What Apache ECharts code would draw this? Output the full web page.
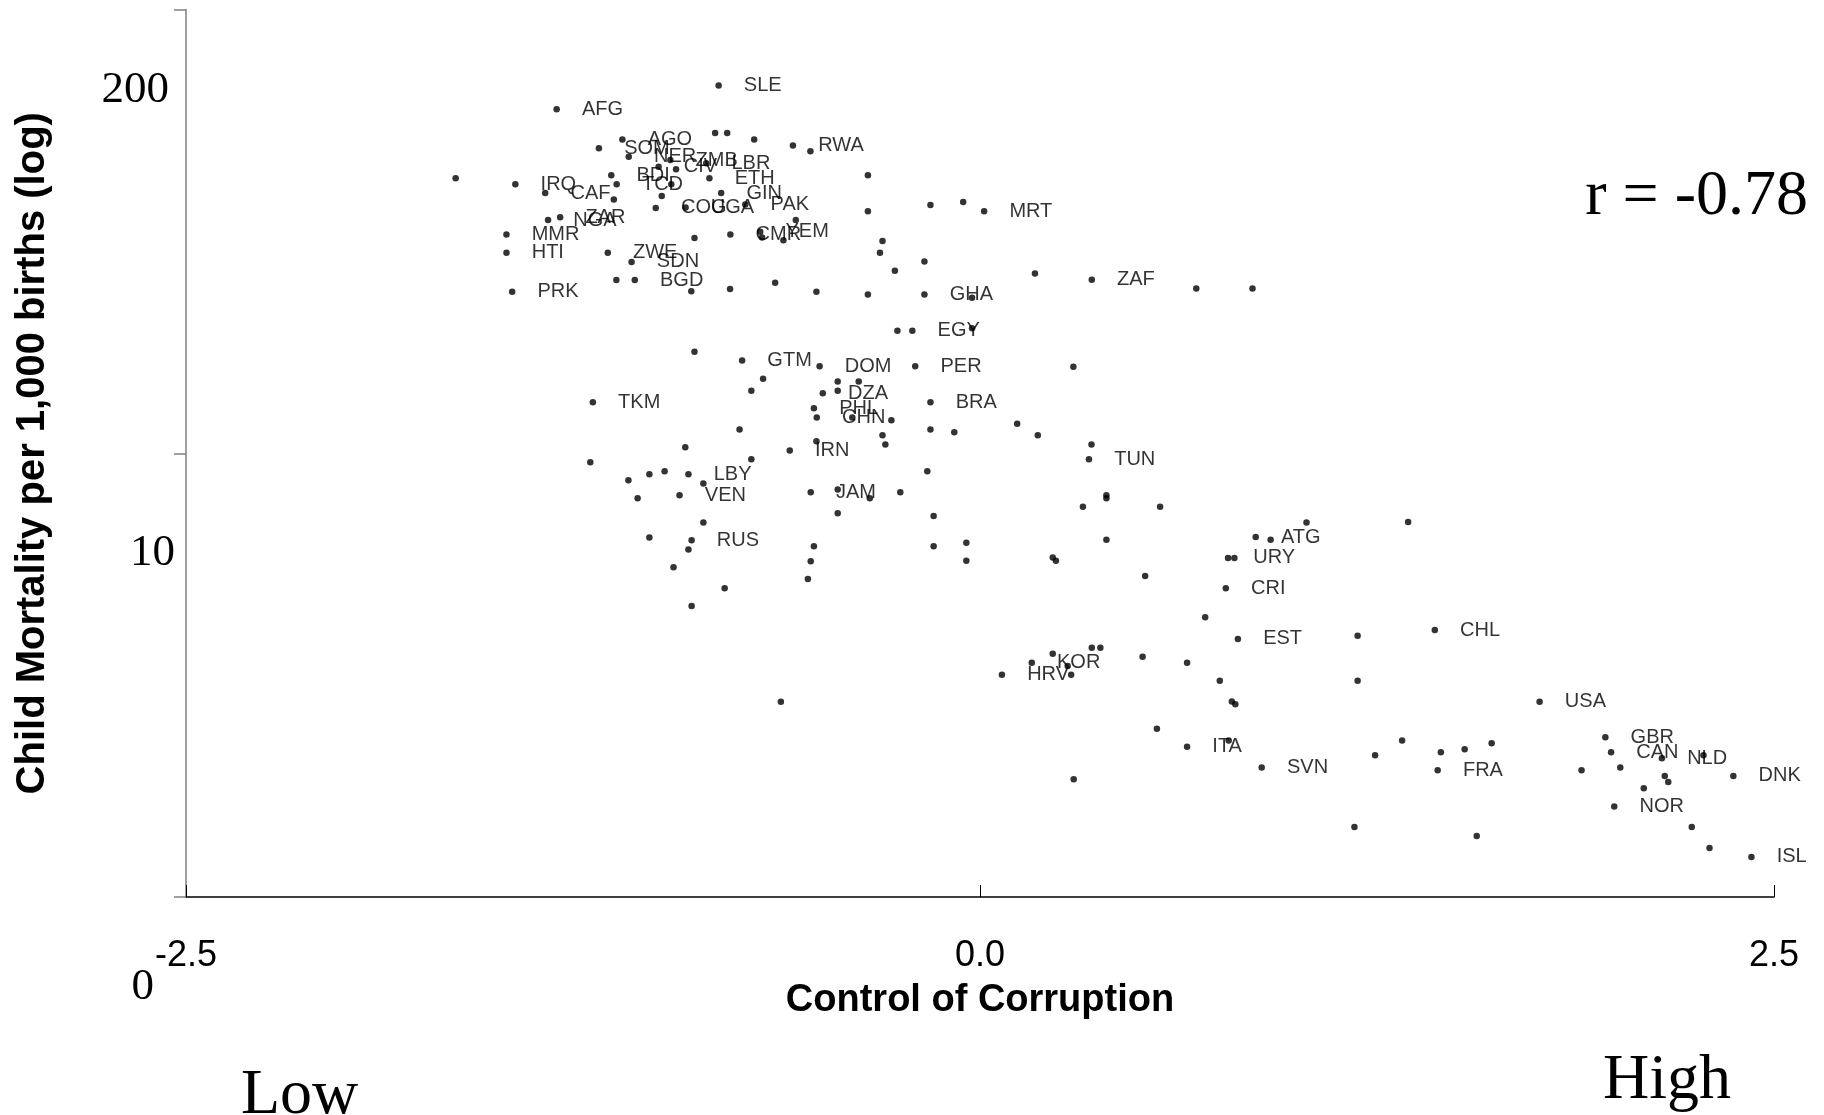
<!DOCTYPE html>
<html>
<head>
<meta charset="utf-8">
<script src="https://cdn.jsdelivr.net/npm/echarts@6/dist/echarts.min.js"></script>
<style>
  html, body { margin: 0; padding: 0; background: #fff; }
  #chart { width: 1824px; height: 1115px; }
</style>
</head>
<body>
<div id="chart"></div>
<script>
// control of corruption score (x)
const corruption = [
  -0.823, -1.333, -1.651, -1.463, -1.369, -1.200, -1.126, -1.106, -0.975, -1.012,
  -0.957, -0.862, -0.834, -0.796, -0.711, -0.589, -0.534, -1.161, -1.144, -1.153,
  -1.021, -1.002, -0.972, -0.852, -0.815, -0.927, -0.739, -0.580, -0.692, -0.786,
  -0.686, -0.619, -0.899, -1.360, -1.322, -1.491, -1.491, -1.172, -1.097, -1.145,
  -1.087, -0.909, -0.787, -0.645, -0.515, -1.473, -0.353, -0.353, -0.156, -0.053,
  0.013, -0.307, -0.315, -0.175, -0.268, 0.173, 0.352, 0.681, 0.858, -0.353,
  -0.175, -0.025, -0.260, -0.213, -0.025, -0.899, -0.749, -0.505, -0.204, -0.683,
  -0.720, -0.448, -0.382, -0.448, -0.495, -1.219, -0.523, -0.514, -0.402, -0.279,
  -0.307, -0.298, -0.156, -0.156, -0.081, -0.757, -0.928, -1.227, -0.720, -0.599,
  -0.515, -0.166, -1.107, -1.041, -0.993, -0.918, -0.871, -0.946, -1.078, -0.533,
  -0.448, -0.347, -0.251, -0.448, -0.146, -0.871, -1.041, -0.908, -0.918, -0.523,
  -0.533, -0.542, -0.146, -0.965, -0.804, -0.908, 0.294, 0.117, 0.182, 0.351,
  0.343, 0.398, 0.398, 0.324, 0.567, 1.028, 0.868, 0.915, -0.043, -0.043,
  0.398, 0.229, 0.239, 0.781, 0.801, 0.520, 0.774, 0.709, -0.627, 0.069,
  0.163, 0.229, 0.276, 0.287, 0.352, 0.379, 0.512, 0.557, 0.295, 1.348,
  0.812, 1.189, 1.432, 0.652, 0.755, 0.793, 0.804, 1.189, 1.762, 0.652,
  0.783, 0.887, 1.244, 1.329, 1.451, 1.526, 1.611, 1.441, 1.894, 1.969,
  1.987, 2.016, 2.147, 2.278, 2.156, 2.167, 2.090, 2.372, 1.997, 2.241,
  2.297, 2.429, 1.179, 1.564
];

// child mortality per 1,000 births, log10 (y)
const mortalityLog = [
  2.286, 2.219, 2.025, 2.008, 1.983, 2.109, 2.134, 2.085, 2.076, 2.057,
  2.050, 2.067, 2.152, 2.152, 2.134, 2.117, 2.101, 2.033, 2.008, 1.965,
  1.941, 1.975, 2.008, 2.025, 1.983, 1.942, 1.951, 1.907, 1.874, 1.866,
  1.858, 1.850, 1.856, 1.907, 1.915, 1.866, 1.815, 1.815, 1.789, 1.738,
  1.738, 1.706, 1.713, 1.730, 1.705, 1.705, 2.033, 1.932, 1.949, 1.958,
  1.932, 1.848, 1.815, 1.790, 1.764, 1.756, 1.739, 1.714, 1.714, 1.697,
  1.697, 1.688, 1.595, 1.595, 1.602, 1.536, 1.511, 1.495, 1.495, 1.460,
  1.426, 1.452, 1.452, 1.426, 1.419, 1.394, 1.377, 1.351, 1.351, 1.343,
  1.301, 1.275, 1.394, 1.317, 1.309, 1.317, 1.267, 1.225, 1.233, 1.258,
  1.284, 1.199, 1.174, 1.191, 1.199, 1.191, 1.165, 1.132, 1.123, 1.140,
  1.148, 1.123, 1.140, 1.081, 1.073, 1.055, 1.013, 1.005, 0.979, 0.988,
  0.946, 0.896, 0.988, 0.929, 0.870, 0.820, 1.494, 1.333, 1.301, 1.275,
  1.233, 1.132, 1.123, 1.099, 1.099, 1.055, 1.014, 1.006, 0.998, 0.947,
  1.006, 0.956, 0.947, 0.955, 0.955, 0.904, 0.870, 0.788, 0.550, 0.626,
  0.660, 0.685, 0.651, 0.626, 0.702, 0.702, 0.677, 0.474, 0.332, 1.056,
  0.727, 0.736, 0.752, 0.660, 0.609, 0.551, 0.543, 0.609, 0.550, 0.423,
  0.441, 0.365, 0.399, 0.441, 0.408, 0.416, 0.433, 0.357, 0.357, 0.450,
  0.408, 0.365, 0.391, 0.399, 0.341, 0.324, 0.306, 0.341, 0.255, 0.197,
  0.138, 0.113, 0.197, 0.172
];

// country labels ('' = unlabelled point)
const countryCode = [
  "SLE", "AFG", "", "IRQ", "CAF", "SOM", "AGO", "NER", "ZMB", "CIV",
  "", "LBR", "", "", "", "RWA", "", "BDI", "TCD", "",
  "COG", "", "", "ETH", "GIN", "UGA", "PAK", "", "YEM", "CMR",
  "", "", "", "NGA", "ZAR", "MMR", "HTI", "ZWE", "SDN", "",
  "BGD", "", "", "", "", "PRK", "", "", "", "",
  "MRT", "", "", "", "", "", "ZAF", "", "", "",
  "GHA", "", "", "EGY", "", "", "GTM", "DOM", "PER", "",
  "", "", "", "", "DZA", "TKM", "PHL", "CHN", "", "",
  "", "", "BRA", "", "", "", "", "", "", "IRN",
  "", "", "", "", "", "LBY", "", "VEN", "", "JAM",
  "", "", "", "", "", "", "", "RUS", "", "",
  "", "", "", "", "", "", "", "", "", "",
  "TUN", "", "", "", "", "", "ATG", "", "", "",
  "", "", "", "URY", "", "", "CRI", "", "", "HRV",
  "KOR", "", "", "", "", "", "", "", "", "",
  "EST", "", "CHL", "", "", "", "", "", "USA", "ITA",
  "", "SVN", "", "", "", "", "", "FRA", "", "GBR",
  "CAN", "", "NLD", "", "", "", "", "DNK", "NOR", "",
  "", "ISL", "", ""
];

// y axis: log10 scale, labels shown as births per 1,000
const yTickValues = [0, 1.25, 2.5];
const yLabelValues = [0, 1, 2.30103];
const yLabelTexts = ["0", "10", "200"];

const xTickValues = [-2.5, 0, 2.5];

let myChart = echarts.init(document.getElementById("chart"));

let option = {
  animation: false,
  backgroundColor: "#fff",
  grid: {
    left: 186,
    right: 50,
    top: 9.5,
    bottom: 218,
    containLabel: false,
    outerBoundsMode: "none"
  },
  xAxis: {
    type: "value",
    min: -2.5,
    max: 2.5,
    interval: 2.5,
    name: "Control of Corruption",
    nameLocation: "middle",
    nameGap: 85,
    nameTextStyle: {
      color: "#000",
      fontFamily: "Liberation Sans",
      fontWeight: "bold",
      fontSize: 38
    },
    axisLine: { onZero: false, lineStyle: { color: "#000", width: 1.5 } },
    axisTick: {
      show: true,
      inside: true,
      length: 12,
      customValues: xTickValues,
      lineStyle: { color: "#000", width: 1 }
    },
    axisLabel: {
      color: "#000",
      fontFamily: "Liberation Sans",
      fontSize: 36,
      margin: 41,
      customValues: xTickValues,
      formatter: function(v) {
        return v.toFixed(1);
      }
    },
    splitLine: { show: false }
  },
  yAxis: {
    type: "value",
    min: 0,
    max: 2.5,
    interval: 1.25,
    name: "Child Mortality per 1,000 births (log)",
    nameLocation: "middle",
    nameGap: 133,
    nameTextStyle: {
      color: "#000",
      fontFamily: "Liberation Sans",
      fontWeight: "bold",
      fontSize: 40
    },
    axisLine: { show: true, onZero: false, lineStyle: { color: "#808080", width: 1.5 } },
    axisTick: {
      show: true,
      inside: false,
      length: 12,
      customValues: yTickValues,
      lineStyle: { color: "#808080", width: 1.5 }
    },
    axisLabel: {
      color: "#000",
      fontFamily: "Liberation Serif",
      fontSize: 45,
      margin: 11,
      customValues: yLabelValues,
      formatter: function(v) {
        let i = yLabelValues.indexOf(v);
        let key = ["z", "a", "b"][i];
        return "{" + key + "|" + yLabelTexts[i] + "}";
      },
      rich: {
        z: { fontFamily: "Liberation Serif", fontSize: 45, color: "#000", padding: [180, 21, 0, 0] },
        a: { fontFamily: "Liberation Serif", fontSize: 45, color: "#000", padding: [22, 0, 0, 0] },
        b: { fontFamily: "Liberation Serif", fontSize: 45, color: "#000", padding: [20, 6, 0, 0] }
      }
    },
    splitLine: { show: false }
  },
  series: [
    {
      type: "scatter",
      symbol: "circle",
      symbolSize: 6.5,
      itemStyle: { color: "#000" },
      label: {
        show: true,
        position: "right",
        distance: 22,
        formatter: "{b}",
        color: "#000",
        fontFamily: "Liberation Sans",
        fontSize: 20,
        padding: [3, 0, 0, 0]
      },
      emphasis: { disabled: true },
      data: corruption.map((x, i) => ({
        name: countryCode[i],
        value: [x, mortalityLog[i]]
      }))
    }
  ],
  graphic: [
    {
      type: "text",
      right: 16,
      top: 165,
      style: {
        text: "r = -0.78",
        fill: "#000",
        font: '64px "Liberation Serif"'
      }
    },
    {
      type: "text",
      left: 241,
      top: 1064,
      style: {
        text: "Low",
        fill: "#000",
        font: '64px "Liberation Serif"'
      }
    },
    {
      type: "text",
      left: 1603,
      top: 1049,
      style: {
        text: "High",
        fill: "#000",
        font: '64px "Liberation Serif"'
      }
    }
  ]
};

myChart.setOption(option);
</script>
</body>
</html>
